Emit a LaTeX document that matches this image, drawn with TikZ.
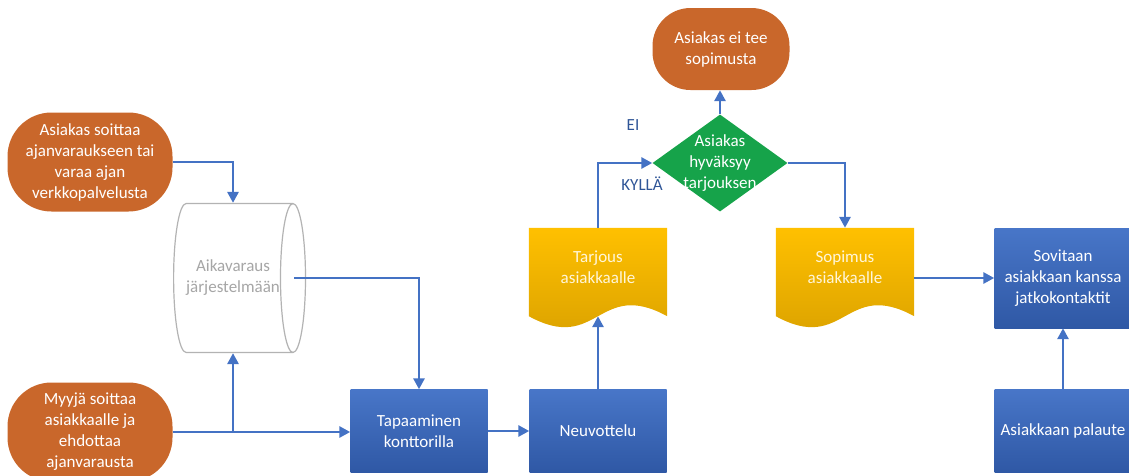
\documentclass[tikz,border=0pt]{standalone}
\usepackage{fontspec}
\setmainfont{Carlito}
\usepackage{xcolor}
\definecolor{term-orange}{RGB}{201,103,43}
\definecolor{proc-blue}{RGB}{72,118,200}
\definecolor{proc-blue-dark}{RGB}{47,88,165}
\definecolor{doc-gold}{RGB}{255,192,0}
\definecolor{doc-gold-dark}{RGB}{214,158,0}
\definecolor{dec-green}{RGB}{22,163,74}
\definecolor{line-blue}{RGB}{68,114,196}
\definecolor{label-blue}{RGB}{47,85,151}
\definecolor{drum-grey}{RGB}{166,166,166}
\usepackage{tikz}
\usetikzlibrary{shapes.geometric,calc,arrows.meta,backgrounds}
\newcommand{\docshape}[1]{%
	\begin{scope}[on background layer]
		\shade[top color=doc-gold,bottom color=doc-gold-dark]
			(#1.north west) -- (#1.north east) -- ([yshift=-10pt]#1.south east)
			.. controls ([yshift=28pt]#1.south) and ([yshift=-48pt]#1.south) ..
			([yshift=-10pt]#1.south west) -- cycle;
	\end{scope}}

\begin{document}
\begin{tikzpicture}[x=1pt,y=-1pt,>={Triangle[length=11pt,width=11pt]},
	font=\fontsize{17}{21}\selectfont,
	flow/.style={->,line-blue,line width=2.8pt},
	terminal/.style={rectangle,rounded corners=44pt,fill=term-orange,text=white,
		align=center,minimum width=165pt,minimum height=99pt,inner sep=0pt},
	process/.style={rectangle,top color=proc-blue,bottom color=proc-blue-dark,
		text=white,align=center,minimum width=137pt,minimum height=83pt,inner sep=0pt},
	docbox/.style={rectangle,text=white!85!doc-gold,align=center,
		minimum width=138pt,minimum height=78pt,inner sep=0pt},
	decision/.style={diamond,fill=dec-green,minimum width=135pt,
		minimum height=97pt,inner sep=0pt},
	answer/.style={text=label-blue}]
	\useasboundingbox (0,0) rectangle (1129,475);
	\clip (0,0) rectangle (1129,475);
	
	\node[terminal] (call) at (90,162)
		{Asiakas soittaa\\ajanvaraukseen tai\\varaa ajan\\verkkopalvelusta};
	\node[terminal] (sellercall) at (90,432)
		{Myyjä soittaa\\asiakkaalle ja\\ehdottaa\\ajanvarausta};
	\node[cylinder,shape aspect=.7,draw=drum-grey!85,line width=1.2pt,fill=white,
		text=drum-grey,align=center,minimum width=149pt,minimum height=100pt,
		inner sep=0pt] (booking) at (233,278) {Aikavaraus\\järjestelmään};
	\node[process] (meeting) at (419,431) {Tapaaminen\\konttorilla};
	\node[process] (negotiation) at (598,431) {Neuvottelu};
	\node[docbox] (offer) at (598,267) {Tarjous\\asiakkaalle};
	\node[decision,label={[text=white,align=center]center:Asiakas\\hyväksyy\\tarjouksen}]
		(accept) at (720,163) {};
	\node[terminal,minimum width=137pt,minimum height=82pt,rounded corners=38pt]
		(noDeal) at (721,49) {Asiakas ei tee\\sopimusta};
	\node[docbox] (contract) at (845,267) {Sopimus\\asiakkaalle};
	\node[process,minimum height=100pt] (followup) at (1063,278)
		{Sovitaan\\asiakkaan kanssa\\jatkokontaktit};
	\node[process] (feedback) at (1063,431) {Asiakkaan palaute};
	\node[answer] (no) at (633,125) {EI};
	\node[answer] (yes) at (642,184) {KYLLÄ};
	
	\docshape{offer}
	\docshape{contract}
	
	\coordinate (fork) at (booking.south |- sellercall.east);
	\coordinate (offerwave) at ([yshift=-10pt]offer.south);
	\draw[flow] (call.east) -| (booking.north);
	\draw[flow] (sellercall.east) -- (sellercall.east -| meeting.west);
	\draw[flow] (fork) -- (booking.south);
	\draw[flow] ([xshift=-12pt]booking.east) -| (meeting.north);
	\draw[flow] (meeting) -- (negotiation);
	\draw[flow] (negotiation) -- (offerwave);
	\draw[flow] (offer.north) |- (accept.west);
	\draw[flow] (accept.north) -- (accept.north |- noDeal.south);
	\draw[flow] (accept.east) -| (contract.north);
	\draw[flow] (contract.east |- followup.west) -- (followup.west);
	\draw[flow] (feedback) -- (followup);
	
\end{tikzpicture}
\end{document}
